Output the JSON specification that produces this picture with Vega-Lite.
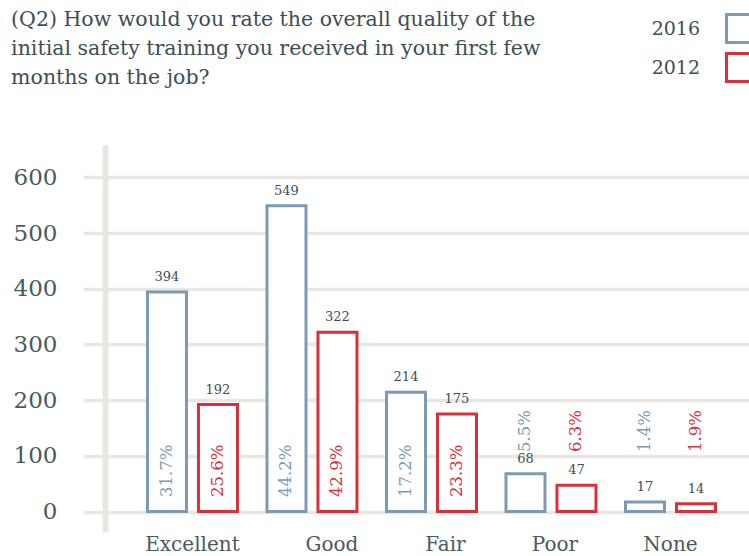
{
  "$schema": "https://vega.github.io/schema/vega-lite/v6.json",
  "autosize": {"type": "none"},
  "width": 666,
  "height": 387,
  "padding": {"left": 83, "top": 145, "right": 0, "bottom": 24},
  "background": "white",
  "title": {
    "text": ["(Q2) How would you rate the overall quality of the", "initial safety training you received in your first few", "months on the job?"],
    "anchor": "start",
    "frame": "bounds",
    "font": "DejaVu Serif",
    "fontSize": 20.5,
    "fontWeight": "normal",
    "color": "#3e4e55",
    "lineHeight": 29,
    "offset": -75,
    "dx": -2
  },
  "data": {
    "values": [
      {"rating": "Excellent", "year": "2016", "count": 394, "share": 0.317},
      {"rating": "Excellent", "year": "2012", "count": 192, "share": 0.256},
      {"rating": "Good", "year": "2016", "count": 549, "share": 0.442},
      {"rating": "Good", "year": "2012", "count": 322, "share": 0.429},
      {"rating": "Fair", "year": "2016", "count": 214, "share": 0.172},
      {"rating": "Fair", "year": "2012", "count": 175, "share": 0.233},
      {"rating": "Poor", "year": "2016", "count": 68, "share": 0.055},
      {"rating": "Poor", "year": "2012", "count": 47, "share": 0.063},
      {"rating": "None", "year": "2016", "count": 17, "share": 0.014},
      {"rating": "None", "year": "2012", "count": 14, "share": 0.019}
    ]
  },
  "encoding": {
    "x": {
      "field": "rating", "type": "nominal",
      "sort": ["Excellent", "Good", "Fair", "Poor", "None"],
      "scale": {"paddingInner": 0.247, "paddingOuter": 0.41, "align": 0.658},
      "axis": {
        "title": null, "labelAngle": 0, "domain": false, "ticks": false, "grid": false,
        "labelFont": "DejaVu Serif", "labelFontSize": 20, "labelColor": "#4a5a60",
        "labelPadding": 2, "labelBaseline": "top",
        "labelOffset": {
          "condition": [
            {"test": "datum.value === 'Good'", "value": 20},
            {"test": "datum.value === 'Fair'", "value": 14},
            {"test": "datum.value === 'Poor'", "value": 4}
          ],
          "value": 0
        }
      }
    },
    "xOffset": {
      "field": "year", "type": "nominal", "sort": ["2016", "2012"],
      "scale": {"paddingInner": 0.235, "paddingOuter": 0}
    }
  },
  "layer": [
    {
      "mark": {"type": "bar", "filled": false, "fill": "white", "strokeWidth": 3},
      "encoding": {
        "y": {
          "field": "count", "type": "quantitative",
          "scale": {"domain": [-36.8, 658], "nice": false, "zero": false},
          "axis": {
            "title": null, "values": [0, 100, 200, 300, 400, 500, 600],
            "offset": -22, "domain": true, "domainColor": "#e9e7e1", "domainWidth": 6,
            "ticks": false, "tickSize": 0, "labelPadding": 48,
            "grid": true, "gridColor": "#e9e7e1", "gridWidth": 3.5,
            "labelFont": "DejaVu Serif", "labelFontSize": 23, "labelColor": "#4a5a60"
          }
        },
        "y2": {"datum": 0},
        "color": {
          "field": "year", "type": "nominal",
          "scale": {"domain": ["2016", "2012"], "range": ["#7d9ab2", "#d7303a"]},
          "legend": {
            "title": null, "orient": "none", "legendX": 642, "legendY": -132,
            "symbolType": "square", "symbolSize": 784, "symbolStrokeWidth": 3,
            "symbolFillColor": "white",
            "labelAlign": "right", "labelOffset": -56,
            "labelFont": "DejaVu Serif", "labelFontSize": 19, "labelColor": "#3e4e55",
            "rowPadding": -2, "padding": 0,
            "encode": {
              "symbols": {
                "update": {
                  "fill": {"value": "white"},
                  "strokeWidth": {"value": 3}
                }
              }
            }
          }
        }
      }
    },
    {
      "mark": {"type": "text", "baseline": "bottom", "dy": -8, "font": "DejaVu Serif", "fontSize": 13, "color": "#3e4e55"},
      "encoding": {
        "y": {"field": "count", "type": "quantitative"},
        "text": {"field": "count", "type": "quantitative"}
      }
    },
    {
      "transform": [{"calculate": "datum.count < 100 ? 107 : 26", "as": "labelpos"}],
      "mark": {"type": "text", "angle": 270, "align": "left", "baseline": "middle", "font": "DejaVu Serif", "fontSize": 16.5},
      "encoding": {
        "y": {"field": "labelpos", "type": "quantitative"},
        "text": {"field": "share", "type": "quantitative", "format": ".1%"},
        "color": {"field": "year", "type": "nominal", "legend": null}
      }
    }
  ],
  "resolve": {"legend": {"color": "independent"}},
  "config": {
    "view": {"stroke": null},
    "title": {"font": "DejaVu Serif", "fontWeight": "normal"}
  }
}
